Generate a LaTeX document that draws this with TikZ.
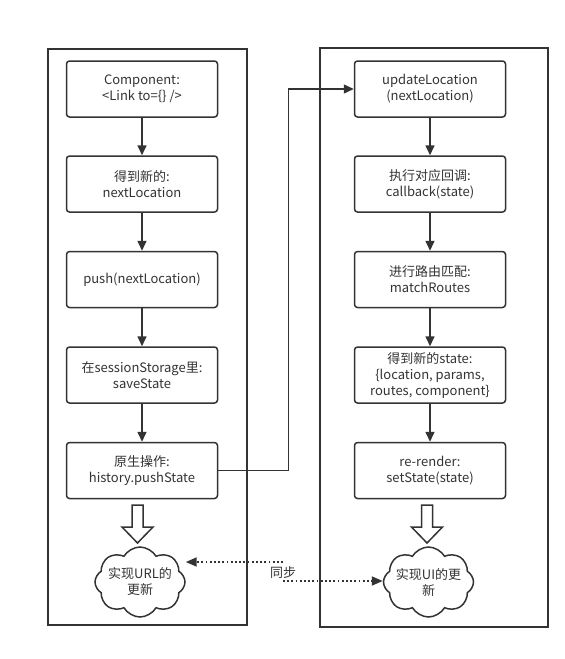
\documentclass[tikz,border=0pt]{standalone}
\usepackage{fontspec}
\setmainfont{Noto Sans CJK SC}
\usetikzlibrary{shapes.symbols, arrows.meta}
\definecolor{ink}{HTML}{333333}
\begin{document}
\begin{tikzpicture}[x=1pt,y=-1pt,
  outer/.style={draw=ink, line width=1.6pt},
  stepbox/.style={draw=ink, line width=1.5pt, rounded corners=3pt, minimum width=151pt, minimum height=56pt, align=center, text=ink, inner sep=2pt, font=\fontsize{13}{16}\selectfont},
  flow/.style={draw=ink, line width=1.6pt, -{Triangle[length=10pt,width=9pt]}},
  link/.style={draw=ink, line width=1.4pt, -{Triangle[length=10pt,width=9pt]}},
  hollow/.style={draw=ink, line width=1.5pt, fill=white, line join=miter},
  cloudbox/.style={cloud, cloud puffs=8, cloud puff arc=120, aspect=1.3, draw=ink, line width=1.5pt, minimum width=90pt, minimum height=70pt, inner sep=0pt},
  txt/.style={text=ink, align=center, font=\fontsize{13}{16}\selectfont},
  sync/.style={draw=ink, line width=1.8pt, dash pattern=on 1.8pt off 2.4pt, -{Triangle[length=11pt,width=9pt]}}
]
\useasboundingbox (0,0) rectangle (565,659);
\draw[outer] (48,49) rectangle (247,625);
\draw[outer] (320,48) rectangle (548,627);

% left column
\node[stepbox] (L1) at (142,89) {Component:\\<Link to=\{\} />};
\node[stepbox] (L2) at (142,184) {得到新的:\\nextLocation};
\node[stepbox] (L3) at (142,279.5) {push(nextLocation)};
\node[stepbox] (L4) at (142,375) {在sessionStorage里:\\saveState};
\node[stepbox] (L5) at (142,470.5) {原生操作:\\history.pushState};

% right column
\node[stepbox] (R1) at (430,89) {updateLocation\\(nextLocation)};
\node[stepbox] (R2) at (430,184) {执行对应回调:\\callback(state)};
\node[stepbox] (R3) at (430,279.5) {进行路由匹配:\\matchRoutes};
\node[stepbox] (R4) at (430,375) {得到新的state:\\\{location, params,\\routes, component\}};
\node[stepbox] (R5) at (430,470.5) {re-render:\\setState(state)};

\draw[flow] (L1) -- (L2);
\draw[flow] (L2) -- (L3);
\draw[flow] (L3) -- (L4);
\draw[flow] (L4) -- (L5);
\draw[flow] (R1) -- (R2);
\draw[flow] (R2) -- (R3);
\draw[flow] (R3) -- (R4);
\draw[flow] (R4) -- (R5);

\draw[link] (L5.east) -- ++(70,0) |- (R1.west);

% hollow arrows
\begin{scope}[shift={(137.5,505)}]
\draw[hollow] (-5.5,0) -- (5.5,0) -- (5.5,22) -- (15.5,22) -- (0,38) -- (-15.5,22) -- (-5.5,22) -- cycle;
\end{scope}
\begin{scope}[shift={(427,505)}]
\draw[hollow] (-5.5,0) -- (5.5,0) -- (5.5,22) -- (15.5,22) -- (0,38) -- (-15.5,22) -- (-5.5,22) -- cycle;
\end{scope}

% clouds
\node[cloudbox] (CL) at (140,582) {};
\node[txt] (CLt) at (140,582) {实现URL的\\更新};
\node[cloudbox] (CR) at (428.5,582) {};
\node[txt] (CRt) at (428.5,582) {实现UI的更\\新};

% sync
\coordinate (S1) at (283,562);
\coordinate (S2) at (283,581);
\draw[sync] (S1) -- (CL.east |- S1);
\draw[sync] (S2) -- (CR.west |- S2);
\node[txt, anchor=west, inner sep=0pt] (SL) at (270,573) {同步};
\end{tikzpicture}
\end{document}
